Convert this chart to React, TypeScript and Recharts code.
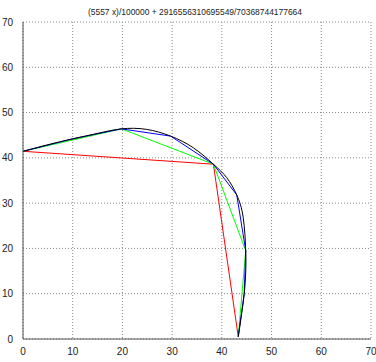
import { LineChart, Line, XAxis, YAxis, CartesianGrid, Label } from "recharts";

const title = "(5557 x)/100000 + 2916556310695549/70368744177664";
const ticks = [0, 10, 20, 30, 40, 50, 60, 70];

// exact curve, sampled
const curve = [
  { x: 0, y: 41.45 },
  { x: 5, y: 42.9 },
  { x: 10, y: 44.2 },
  { x: 15, y: 45.4 },
  { x: 19.8, y: 46.4 },
  { x: 24.8, y: 46.3 },
  { x: 29.7, y: 44.8 },
  { x: 34.3, y: 42.2 },
  { x: 38.3, y: 38.6 },
  { x: 41.0, y: 35.6 },
  { x: 43.0, y: 31.8 },
  { x: 44.3, y: 26.8 },
  { x: 44.8, y: 19.5 },
  { x: 44.8, y: 14.8 },
  { x: 44.5, y: 10 },
  { x: 43.9, y: 5 },
  { x: 43.3, y: 0.5 },
];

// polygon approximations
const red = [
  { x: 0, y: 41.45 },
  { x: 38.3, y: 38.6 },
  { x: 43.3, y: 0.5 },
];
const green = [
  { x: 0, y: 41.45 },
  { x: 19.8, y: 46.4 },
  { x: 38.3, y: 38.6 },
  { x: 44.8, y: 19.5 },
  { x: 43.3, y: 0.5 },
];
const blue = [
  { x: 0, y: 41.45 },
  { x: 10, y: 44.2 },
  { x: 19.8, y: 46.4 },
  { x: 29.7, y: 44.8 },
  { x: 38.3, y: 38.6 },
  { x: 43.0, y: 31.8 },
  { x: 44.8, y: 19.5 },
  { x: 44.5, y: 10 },
  { x: 43.3, y: 0.5 },
];

const tickStyle = { fontSize: 10, fill: "#222", fontFamily: "Liberation Sans, Arial, sans-serif" };

export default function App() {
  return (
    <div style={{ position: "absolute", left: 0, top: 0, width: 376, height: 362, background: "#fff" }}>
      <LineChart width={376} height={362} margin={{ top: 22, right: 5, bottom: 3, left: 0 }}>
        <CartesianGrid stroke="#888" strokeDasharray="1 2" />
        <XAxis
          type="number"
          dataKey="x"
          domain={[0, 70]}
          ticks={ticks}
          height={20}
          tick={tickStyle}
          tickLine={false}
          tickMargin={3}
          axisLine={{ stroke: "#555" }}
          allowDataOverflow
        >
          <Label value="x" position="insideBottom" offset={-9} style={{ fontSize: 10, fill: "#222" }} />
        </XAxis>
        <YAxis
          type="number"
          dataKey="y"
          domain={[0, 70]}
          ticks={ticks}
          width={23}
          tick={tickStyle}
          tickLine={false}
          tickMargin={4}
          axisLine={{ stroke: "#555" }}
          allowDataOverflow
        />
        <Line data={red} dataKey="y" type="linear" stroke="#ff0000" strokeWidth={1} dot={false} isAnimationActive={false} />
        <Line data={green} dataKey="y" type="linear" stroke="#00ff00" strokeWidth={1} dot={false} isAnimationActive={false} />
        <Line data={blue} dataKey="y" type="linear" stroke="#0000ff" strokeWidth={1} dot={false} isAnimationActive={false} />
        <Line data={curve} dataKey="y" type="natural" stroke="#000" strokeWidth={1} dot={false} isAnimationActive={false} />
      </LineChart>
      <svg width={376} height={20} style={{ position: "absolute", left: 0, top: 0 }}>
        <text
          x={195}
          y={15}
          textAnchor="middle"
          fontSize={9}
          fill="#222"
          fontFamily="Liberation Sans, Arial, sans-serif"
          textLength={214}
          lengthAdjust="spacingAndGlyphs"
        >
          {title}
        </text>
      </svg>
    </div>
  );
}
